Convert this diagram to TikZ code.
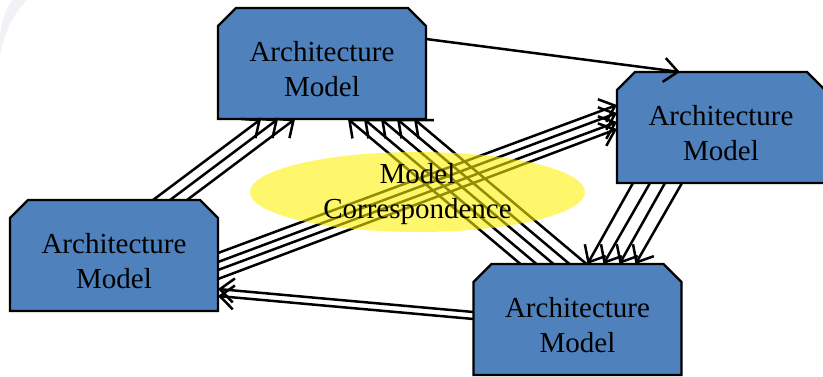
\documentclass[tikz,border=0pt]{standalone}
\usepackage{fontspec}
\setmainfont{Liberation Serif}
\usetikzlibrary{arrows.meta,shapes.geometric}
\definecolor{boxblue}{RGB}{79,129,189}
\definecolor{hazegray}{RGB}{240,242,246}
\tikzset{
  modelbox/.style={draw=none, minimum width=208pt, minimum height=111pt,
    inner sep=0pt, outer sep=0pt},
  chamfer/.style={fill=boxblue, draw=black, line width=2.4pt, line join=miter},
  boxtext/.style={align=center, font=\fontsize{29}{35}\selectfont, inner sep=0pt},
  link/.style={draw=black, line width=2.5pt, -{Straight Barb[length=14pt,width=24pt]}},
  corr/.style={ellipse, minimum width=335pt, minimum height=80pt, inner sep=0pt,
    fill=yellow, fill opacity=0.58},
}
\begin{document}
\begin{tikzpicture}[x=1pt,y=-1pt]
\useasboundingbox (0,0) rectangle (823,376);
\clip (0,0) rectangle (823,376);

% faint background stroke in the corner
\fill[hazegray] (0,55) .. controls (4,35) and (12,15) .. (27,0) -- (12,0)
  .. controls (5,12) and (1,25) .. (0,35) -- cycle;

% the four architecture models
\node[modelbox] (A) at (322,63.5) {};
\node[modelbox] (B) at (114,255.5) {};
\node[modelbox] (C) at (721,127.5) {};
\node[modelbox] (D) at (577.5,319.5) {};
\foreach \n in {A,B,C,D}
  \draw[chamfer] (\n.south west) -- ([yshift=-18pt]\n.north west)
    -- ([xshift=18pt]\n.north west) -- ([xshift=-18pt]\n.north east)
    -- ([yshift=-18pt]\n.north east) -- (\n.south east) -- cycle;

% single link between the two upper models
\draw[link] ([yshift=-31pt]A.north east) -- ([xshift=63pt]C.north west);

% bundles of parallel links
\foreach \s/\e in {143/43,160/60,177/77}
  \draw[link] ([xshift=\s pt]B.north west) -- ([xshift=\e pt]A.south west);
\foreach \s/\e in {47/130,63/146,80/163,96/179,113/196}
  \draw[link] ([xshift=\s pt]D.north west) -- ([xshift=\e pt]A.south west);
\foreach \s/\e in {53/33,62/41,70/50,79/57}
  \draw[link] ([yshift=-\s pt]B.north east) -- ([yshift=-\e pt]C.north west);
\foreach \s/\e in {48/89,55/96}
  \draw[link] ([yshift=-\s pt]D.north west) -- ([yshift=-\e pt]B.north east);
\foreach \s/\e in {16/114,33/130,48/146,65/162}
  \draw[link] ([xshift=\s pt]C.south west) -- ([xshift=\e pt]D.north west);

% correspondence ellipse over the links
\node[corr] (E) at (417.5,192) {};
\node[boxtext] (E-label) at ([yshift=-1.7pt]E.center) {Model\\Correspondence};

% model labels
\foreach \n in {A,B,C,D}
  \node[boxtext] (\n-label) at ([yshift=-5.5pt]\n.center) {Architecture\\Model};
\end{tikzpicture}
\end{document}
